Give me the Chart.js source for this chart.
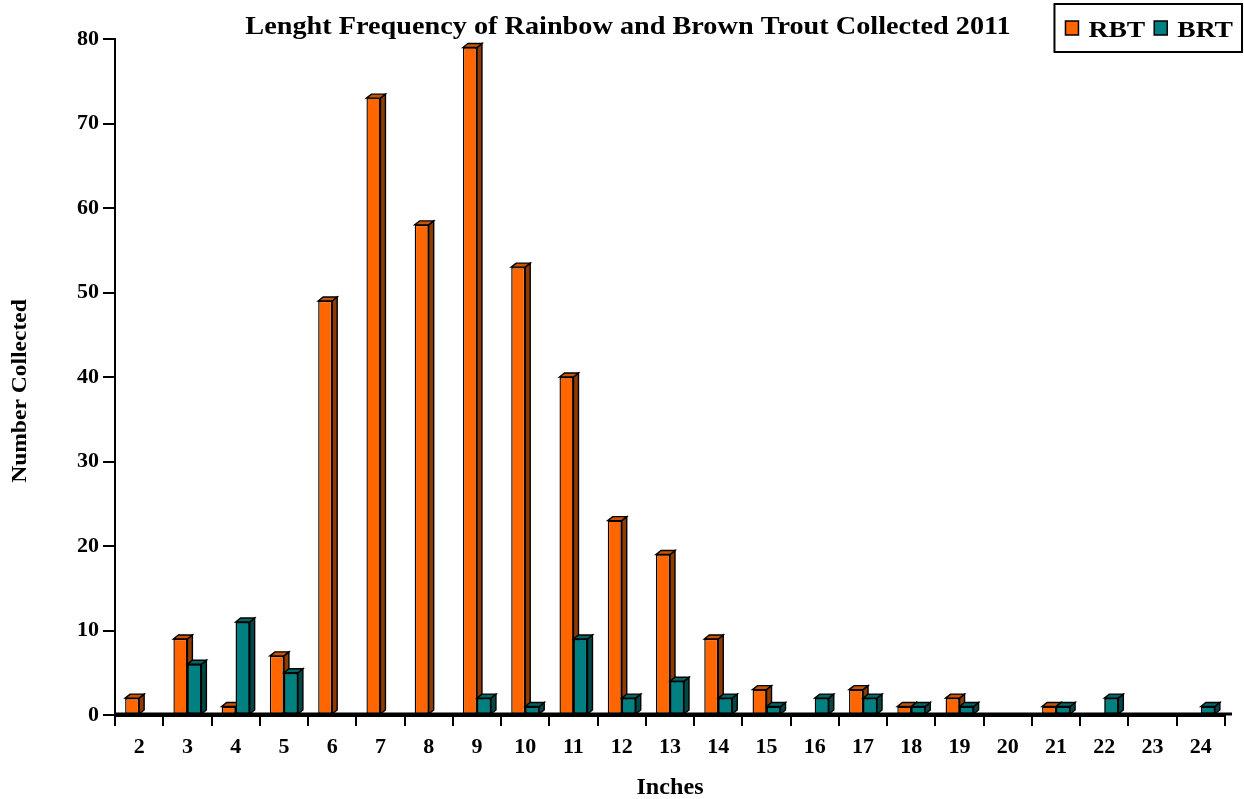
<!DOCTYPE html>
<html>
<head>
<meta charset="utf-8">
<script src="https://cdn.jsdelivr.net/npm/chart.js@4/dist/chart.umd.min.js"></script>
<style>
  html, body { margin: 0; padding: 0; background: #ffffff; }
  #wrap { width: 1244px; height: 799px; position: relative; }
</style>
</head>
<body>
<div id="wrap"><canvas id="c" width="1244" height="799"></canvas></div>
<script>
// ---- data ----
const categories = ['2','3','4','5','6','7','8','9','10','11','12','13','14','15','16','17','18','19','20','21','22','23','24'];
const rbtValues = [2, 9, 1, 7, 49, 73, 58, 79, 53, 40, 23, 19, 9, 3, 0, 3, 1, 2, 0, 1, 0, 0, 0];
const brtValues = [0, 6, 11, 5, 0, 0, 0, 2, 1, 9, 2, 4, 2, 1, 2, 2, 1, 1, 0, 1, 2, 0, 1];
const seriesNames = ['RBT', 'BRT'];
const yTicks = [0, 10, 20, 30, 40, 50, 60, 70, 80];
const chartTitle = 'Lenght Frequency of Rainbow and Brown Trout Collected 2011';
const xTitle = 'Inches';
const yTitle = 'Number Collected';

const SERIF = '"Liberation Serif", "Times New Roman", serif';
const faces = [
  { front: '#FF6600', top: '#CC5200', side: '#8F3A00' },
  { front: '#008080', top: '#006666', side: '#004848' }
];
const DX = 5, DY = 4;

function draw3d(ctx, el, f) {
  const p = el.getProps(['x', 'y', 'base', 'width'], true);
  if (Math.abs(p.base - p.y) < 0.5) return;
  const l = p.x - p.width / 2, r = p.x + p.width / 2;
  ctx.save();
  ctx.lineWidth = 1.4;
  ctx.strokeStyle = '#000000';
  ctx.lineJoin = 'miter';
  ctx.beginPath();
  ctx.moveTo(r, p.y); ctx.lineTo(r + DX, p.y - DY); ctx.lineTo(r + DX, p.base - DY); ctx.lineTo(r, p.base);
  ctx.closePath();
  ctx.fillStyle = f.side; ctx.fill(); ctx.stroke();
  ctx.beginPath();
  ctx.moveTo(l, p.y); ctx.lineTo(l + DX, p.y - DY); ctx.lineTo(r + DX, p.y - DY); ctx.lineTo(r, p.y);
  ctx.closePath();
  ctx.fillStyle = f.top; ctx.fill(); ctx.stroke();
  ctx.restore();
}

const bars3d = {
  id: 'bars3d',
  afterDatasetsDraw(chart) {
    const ctx = chart.ctx;
    const m0 = chart.getDatasetMeta(0), m1 = chart.getDatasetMeta(1);
    m0.data.forEach(el => draw3d(ctx, el, faces[0]));
    m1.data.forEach(el => { el.draw(ctx); draw3d(ctx, el, faces[1]); });
    const a = chart.chartArea;
    ctx.save();
    ctx.strokeStyle = '#000';
    ctx.lineWidth = 3;
    ctx.beginPath();
    ctx.moveTo(a.left, a.bottom - 1);
    ctx.lineTo(a.right + 7, a.bottom - 1);
    ctx.stroke();
    ctx.restore();
  }
};

function stretchedText(ctx, text, x, y, size, sx, rot) {
  ctx.save();
  ctx.translate(x, y);
  if (rot) ctx.rotate(rot);
  ctx.scale(sx, 1);
  ctx.font = 'bold ' + size + 'px ' + SERIF;
  ctx.fillStyle = '#000';
  ctx.textAlign = 'center';
  ctx.textBaseline = 'alphabetic';
  ctx.fillText(text, 0, 0);
  ctx.restore();
}

const texts = {
  id: 'texts',
  afterDraw(chart) {
    const ctx = chart.ctx;
    const a = chart.chartArea;
    // chart title
    stretchedText(ctx, chartTitle, chart.width / 2 + 6, 34, 25, 1.13, 0);
    // axis titles
    stretchedText(ctx, xTitle, (a.left + a.right) / 2, 794, 23, 1.05, 0);
    stretchedText(ctx, yTitle, 26, 391, 22, 1.07, -Math.PI / 2);
    // legend box
    ctx.save();
    const size = 24, sx = 1.15;
    ctx.font = 'bold ' + size + 'px ' + SERIF;
    const sqW = 13, sqH = 14, gapA = 10, gapB = 9, padL = 11, padR = 9;
    const items = chart.data.datasets.map((ds, i) => ({ label: ds.label, color: faces[i].front, w: ctx.measureText(ds.label).width * sx }));
    let total = padL + padR;
    items.forEach((it, i) => { total += sqW + gapA + it.w + (i < items.length - 1 ? gapB : 0); });
    const right = chart.width - 2, top = 4, h = 48;
    const left = right - total;
    ctx.lineWidth = 2;
    ctx.strokeStyle = '#000';
    ctx.strokeRect(left, top, total, h);
    let x = left + padL;
    items.forEach(it => {
      ctx.fillStyle = it.color;
      ctx.fillRect(x, 21, sqW, sqH);
      ctx.lineWidth = 1.5;
      ctx.strokeRect(x, 21, sqW, sqH);
      x += sqW + gapA;
      stretchedText(ctx, it.label, x + it.w / 2, 37, size, sx, 0);
      x += it.w + gapB;
    });
    ctx.restore();
  }
};

new Chart(document.getElementById('c'), {
  type: 'bar',
  data: {
    labels: categories,
    datasets: [
      { label: seriesNames[0], data: rbtValues, backgroundColor: faces[0].front, borderColor: '#000', borderWidth: 1.4, borderSkipped: false },
      { label: seriesNames[1], data: brtValues, backgroundColor: faces[1].front, borderColor: '#000', borderWidth: 1.4, borderSkipped: false }
    ]
  },
  plugins: [bars3d, texts],
  options: {
    responsive: false,
    animation: false,
    devicePixelRatio: 1,
    layout: { padding: { left: 0, right: 19, top: 39, bottom: 0 } },
    datasets: { bar: { categoryPercentage: 0.58, barPercentage: 1.0 } },
    plugins: {
      legend: { display: false },
      tooltip: { enabled: false },
      title: { display: false }
    },
    scales: {
      x: {
        offset: true,
        grid: { offset: true, drawOnChartArea: false, drawTicks: true, tickLength: 11, color: '#000', lineWidth: 2 },
        border: { display: true, color: '#000', width: 3 },
        ticks: { color: '#000', padding: 8, font: { family: SERIF, size: 22, weight: 'bold' }, maxRotation: 0, autoSkip: false },
        title: { display: false },
        afterFit(scale) { scale.height = 84; }
      },
      y: {
        min: 0,
        max: 80,
        afterBuildTicks(scale) { scale.ticks = yTicks.map(v => ({ value: v })); },
        grid: { drawOnChartArea: false, drawTicks: true, tickLength: 12, color: '#000', lineWidth: 2 },
        border: { display: true, color: '#000', width: 2 },
        ticks: { color: '#000', padding: 4, font: { family: SERIF, size: 22, weight: 'bold' } },
        title: { display: false },
        afterFit(scale) { scale.width = 115; }
      }
    }
  }
});
</script>
</body>
</html>
